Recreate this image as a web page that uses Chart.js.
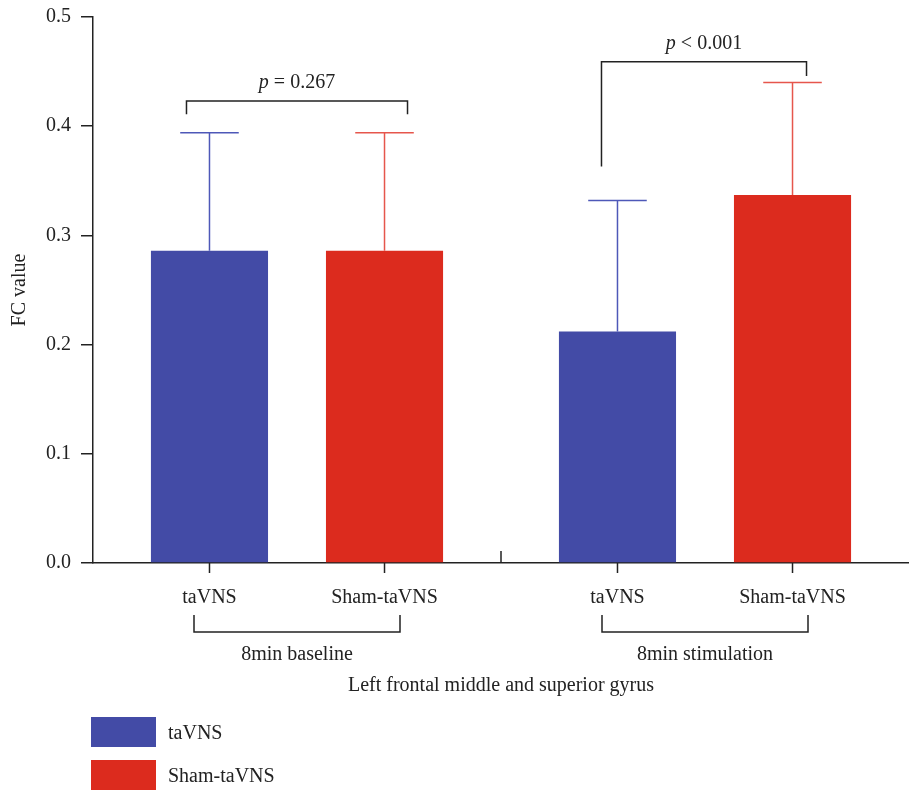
<!DOCTYPE html>
<html>
<head>
<meta charset="utf-8">
<script src="https://cdn.jsdelivr.net/npm/chart.js@4.4.1/dist/chart.umd.min.js"></script>
<style>
  body { margin: 0; background: #fff; }
  #wrap { position: relative; width: 909px; height: 793px; }
  #legend { position: absolute; left: 91px; top: 717px; font-family: "Liberation Serif", serif; font-size: 20px; color: #222; }
  .item { display: flex; align-items: center; height: 30px; margin-bottom: 13px; }
  .box { width: 65px; height: 30px; margin-right: 12px; }
</style>
</head>
<body>
<div id="wrap">
  <canvas id="myChart" width="909" height="793"></canvas>
  <div id="legend"></div>
</div>
<script>
"use strict"
let groups = ['8min baseline', '8min stimulation'];
let seriesNames = ['taVNS', 'Sham-taVNS'];
let taVNS = [0.286, 0.212];
let shamTaVNS = [0.286, 0.337];
let taVNSsd = [0.108, 0.120];
let shamSd = [0.108, 0.103];
let pLabels = [['p', ' = 0.267'], ['p', ' < 0.001']];
let yTicks = [0.0, 0.1, 0.2, 0.3, 0.4, 0.5];
let xTitle = 'Left frontal middle and superior gyrus';
let yTitle = 'FC value';

let blue = '#434ba6';
let red = '#dc2b1e';
let blueLine = '#4e58b8';
let redLine = '#e6564c';
let ink = '#222';
let font = '"Liberation Serif", serif';

// bracket heights, in value units: [bar, left leg end, right leg end]
let brackets = [[0.423, 0.411, 0.411], [0.459, 0.363, 0.446]];

let extras = {
    id: 'extras',
    afterDatasetsDraw(chart) {
        let ctx = chart.ctx;
        let y = chart.scales.y;
        let x = chart.scales.x;
        let sds = [taVNSsd, shamSd];
        let lines = [blueLine, redLine];
        ctx.save();
        // error bars
        for (let d = 0; d < 2; d++) {
            let meta = chart.getDatasetMeta(d);
            for (let i = 0; i < meta.data.length; i++) {
                let bar = meta.data[i];
                let val = chart.data.datasets[d].data[i];
                let top = y.getPixelForValue(val + sds[d][i]);
                let half = bar.width / 4;
                ctx.strokeStyle = lines[d];
                ctx.lineWidth = 1.5;
                ctx.beginPath();
                ctx.moveTo(bar.x, bar.y);
                ctx.lineTo(bar.x, top);
                ctx.moveTo(bar.x - half, top);
                ctx.lineTo(bar.x + half, top);
                ctx.stroke();
            }
        }
        let base = y.getPixelForValue(0);
        ctx.strokeStyle = ink;
        ctx.fillStyle = ink;
        ctx.lineWidth = 1.5;
        ctx.font = '20px ' + font;
        ctx.textAlign = 'center';
        ctx.textBaseline = 'middle';
        for (let i = 0; i < groups.length; i++) {
            let b1 = chart.getDatasetMeta(0).data[i];
            let b2 = chart.getDatasetMeta(1).data[i];
            // ticks under bars and bar labels
            [b1, b2].forEach(function (b, k) {
                ctx.beginPath();
                ctx.moveTo(b.x, base);
                ctx.lineTo(b.x, base + 10);
                ctx.stroke();
                ctx.fillText(seriesNames[k], b.x, base + 35);
            });
            // group bracket
            let c = x.getPixelForValue(i);
            let w = 103;
            ctx.beginPath();
            ctx.moveTo(c - w, base + 52);
            ctx.lineTo(c - w, base + 69);
            ctx.lineTo(c + w, base + 69);
            ctx.lineTo(c + w, base + 52);
            ctx.stroke();
            // significance bracket
            let br = brackets[i];
            let by = y.getPixelForValue(br[0]);
            let lx = b1.x - 23;
            let rx = b2.x + 23;
            if (i == 1) { lx = b1.x - 16; rx = b2.x + 14; }
            ctx.beginPath();
            ctx.moveTo(lx, y.getPixelForValue(br[1]));
            ctx.lineTo(lx, by);
            ctx.lineTo(rx, by);
            ctx.lineTo(rx, y.getPixelForValue(br[2]));
            ctx.stroke();
            let mid = (lx + rx) / 2;
            ctx.font = 'italic 20px ' + font;
            let w1 = ctx.measureText(pLabels[i][0]).width;
            ctx.font = '20px ' + font;
            let w2 = ctx.measureText(pLabels[i][1]).width;
            let start = mid - (w1 + w2) / 2;
            ctx.textAlign = 'left';
            ctx.font = 'italic 20px ' + font;
            ctx.fillText(pLabels[i][0], start, by - 18);
            ctx.font = '20px ' + font;
            ctx.fillText(pLabels[i][1], start + w1, by - 18);
            ctx.textAlign = 'center';
        }
        // small upward tick between groups
        let sep = (x.getPixelForValue(0) + x.getPixelForValue(1)) / 2;
        ctx.beginPath();
        ctx.moveTo(sep, base);
        ctx.lineTo(sep, base - 12);
        ctx.stroke();
        ctx.restore();
    }
};

let ctx = document.getElementById('myChart').getContext('2d');
let myChart = new Chart(ctx, {
    type: 'bar',
    data: {
        labels: groups,
        datasets: [{
            label: seriesNames[0],
            data: taVNS,
            backgroundColor: blue
        }, {
            label: seriesNames[1],
            data: shamTaVNS,
            backgroundColor: red
        }]
    },
    options: {
        responsive: false,
        animation: false,
        categoryPercentage: 0.858,
        barPercentage: 0.669,
        layout: { padding: { left: 8, right: 0, top: 0, bottom: 95 } },
        plugins: {
            legend: { display: false },
            tooltip: { enabled: false }
        },
        scales: {
            x: {
                grid: { display: false },
                border: { display: true, color: ink, width: 1.5 },
                ticks: { color: ink, font: { family: font, size: 20 }, padding: 72 },
                title: { display: true, text: xTitle, color: ink, font: { family: font, size: 20 }, padding: { top: -65, bottom: 0 } }
            },
            y: {
                min: 0,
                max: 0.5,
                afterBuildTicks: function (axis) {
                    axis.ticks = yTicks.map(function (v) { return { value: v }; });
                },
                grid: { drawOnChartArea: false, drawTicks: true, tickLength: 12, color: ink, lineWidth: 1.5 },
                border: { display: true, color: ink, width: 1.5 },
                ticks: {
                    color: ink,
                    padding: 10,
                    font: { family: font, size: 20, lineHeight: 0.7 },
                    callback: function (v) { return v.toFixed(1); }
                },
                title: { display: true, text: yTitle, color: ink, font: { family: font, size: 20 }, padding: { top: 0, bottom: 4 } }
            }
        }
    },
    plugins: [extras]
});

let legend = document.getElementById('legend');
myChart.data.datasets.forEach(function (ds) {
    let item = document.createElement('div');
    item.className = 'item';
    let box = document.createElement('span');
    box.className = 'box';
    box.style.background = ds.backgroundColor;
    let txt = document.createElement('span');
    txt.textContent = ds.label;
    item.appendChild(box);
    item.appendChild(txt);
    legend.appendChild(item);
});
</script>
</body>
</html>
